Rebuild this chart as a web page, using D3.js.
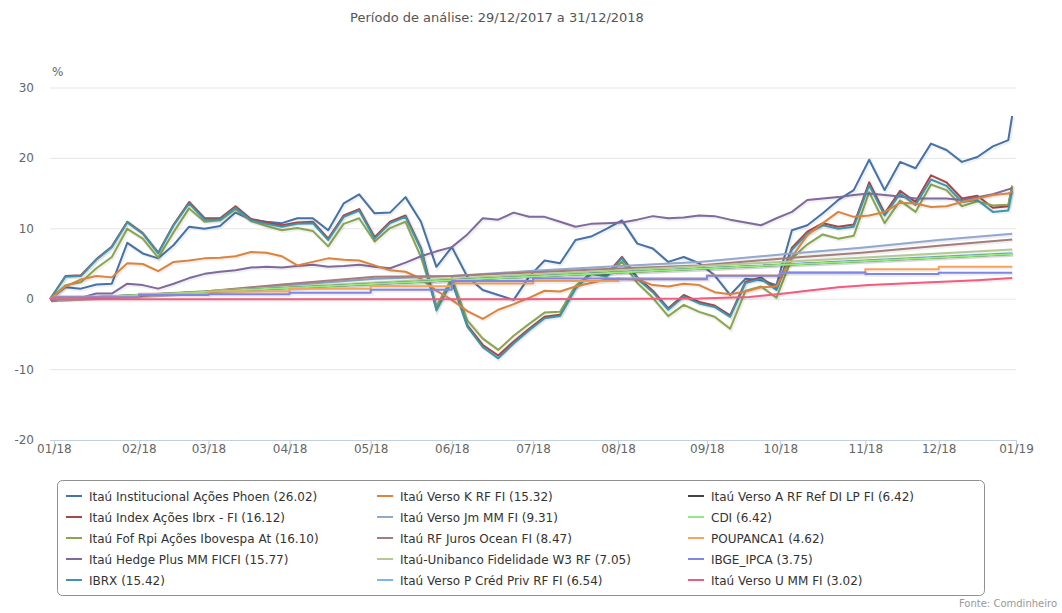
<!DOCTYPE html>
<html>
  <head>
    <meta charset="utf-8">
    <script src="https://cdn.jsdelivr.net/npm/d3@7"></script>
    <title>Período de análise</title>
    <style>
      body {
        margin: 0px;
        background: #fff;
      }
      .title {
        fill: #555;
        font-size: 13px;
      }
      .tick-label {
        fill: #666;
        font-size: 12px;
      }
      .legend-item {
        fill: #333;
        font-size: 12px;
      }
      .source {
        fill: #999;
        font-size: 10px;
      }
    </style>
  </head>
  <body>
    <svg width="1062" height="613"></svg>
    <script>
      // ordinal (trading-day) axis: index 0 = 29/12/2017, 249 = 31/12/2018
      const monthLabels = ['01/18', '02/18', '03/18', '04/18', '05/18', '06/18', '07/18',
        '08/18', '09/18', '10/18', '11/18', '12/18', '01/19'];
      const monthStartIdx = [1, 23, 41, 62, 83, 104, 125, 147, 170, 189, 211, 230, 250];
      const yTicks = [-20, -10, 0, 10, 20, 30];

      const seriesNames = [
        'Itaú Institucional Ações Phoen', 'Itaú Index Ações Ibrx - FI', 'Itaú Fof Rpi Ações Ibovespa At',
        'Itaú Hedge Plus MM FICFI', 'IBRX', 'Itaú Verso K RF FI', 'Itaú Verso Jm MM FI',
        'Itaú RF Juros Ocean FI', 'Itaú-Unibanco Fidelidade W3 RF', 'Itaú Verso P Créd Priv RF FI',
        'Itaú Verso A RF Ref DI LP FI', 'CDI', 'POUPANCA1', 'IBGE_IPCA', 'Itaú Verso U MM FI'
      ];
      const finalValues = [26.02, 16.12, 16.10, 15.77, 15.42, 15.32, 9.31, 8.47, 7.05, 6.54,
        6.42, 6.42, 4.62, 3.75, 3.02];
      const colors = ['#4572A7', '#AA4643', '#89A54E', '#80699B', '#3D96AE', '#DB843D',
        '#92A8CD', '#A47D7C', '#B5CA92', '#7cb5ec', '#434348', '#90ed7d', '#f7a35c',
        '#8085e9', '#f15c80'];

      // volatile series, read every 4 trading days
      const sampleIdx = d3.range(0, 249, 4).concat([249]);
      const phoen = [0, 1.7, 1.5, 2.1, 2.2, 8.0, 6.5, 5.8, 7.7, 10.3,
        10.0, 10.4, 12.3, 11.3, 11.0, 10.8, 11.5, 11.5, 9.8, 13.6,
        14.9, 12.2, 12.3, 14.5, 11.0, 4.6, 7.4, 3.2, 1.3, 0.6,
        -0.1, 3.2, 5.5, 5.1, 8.4, 8.9, 10.0, 11.2, 7.9, 7.2,
        5.3, 6.0, 5.1, 3.4, 0.6, 2.9, 2.7, 2.0, 9.8, 10.5,
        12.2, 14.1, 15.5, 19.8, 15.5, 19.5, 18.6, 22.1, 21.2, 19.5,
        20.2, 21.7, 22.6, 26.02];
      const indexIbrx = [0, 3.3, 3.4, 5.7, 7.5, 11.0, 9.4, 6.6, 10.6, 13.8,
        11.5, 11.5, 13.2, 11.4, 10.9, 10.5, 10.9, 11.0, 8.6, 11.9,
        12.8, 8.8, 11.0, 11.9, 7.3, -1.3, 2.7, -3.7, -6.5, -8.0,
        -6.0, -4.2, -2.5, -2.2, 1.7, 3.8, 3.5, 6.0, 3.1, 1.2,
        -1.3, 0.6, -0.4, -0.9, -2.3, 2.5, 3.1, 1.5, 7.3, 9.6,
        10.8, 10.3, 10.6, 16.6, 12.2, 15.4, 13.8, 17.6, 16.6, 14.3,
        14.7, 13.0, 13.2, 16.12];
      const fofRpi = [0, 2.0, 2.4, 4.4, 6.0, 10.0, 8.6, 5.9, 9.5, 12.9,
        11.0, 11.2, 12.8, 11.1, 10.4, 9.8, 10.1, 9.7, 7.5, 10.7,
        11.5, 8.2, 10.1, 11.0, 6.0, -1.0, 3.0, -3.0, -5.6, -7.2,
        -5.2, -3.5, -1.9, -1.8, 1.9, 3.7, 3.2, 5.3, 2.3, 0.2,
        -2.4, -0.8, -1.8, -2.5, -4.2, 1.2, 1.8, 0.2, 5.8, 7.8,
        9.2, 8.6, 9.0, 15.2, 10.8, 14.0, 12.4, 16.3, 15.5, 13.2,
        13.9, 13.3, 13.4, 16.10];
      const hedgePlus = [0, 0.1, 0.2, 0.8, 0.8, 2.2, 2.0, 1.5, 2.2, 3.0,
        3.6, 3.9, 4.1, 4.5, 4.6, 4.5, 4.7, 4.9, 4.6, 4.7,
        4.9, 4.6, 4.4, 5.2, 6.1, 6.8, 7.4, 9.2, 11.5, 11.3,
        12.3, 11.7, 11.7, 11.0, 10.3, 10.7, 10.8, 10.9, 11.3, 11.8,
        11.5, 11.6, 11.9, 11.8, 11.3, 10.9, 10.5, 11.5, 12.4, 14.1,
        14.3, 14.5, 14.8, 15.0, 14.8, 14.6, 14.3, 14.3, 14.3, 14.1,
        14.5, 14.9, 15.6, 15.77];
      const ibrx = [0, 3.2, 3.3, 5.6, 7.4, 10.9, 9.3, 6.5, 10.5, 13.6,
        11.3, 11.3, 13.0, 11.2, 10.7, 10.3, 10.7, 10.8, 8.4, 11.7,
        12.6, 8.6, 10.8, 11.7, 7.1, -1.6, 2.5, -3.9, -6.8, -8.4,
        -6.3, -4.4, -2.7, -2.4, 1.5, 3.6, 3.3, 5.8, 2.9, 1.0,
        -1.5, 0.4, -0.6, -1.1, -2.5, 2.3, 2.9, 1.3, 7.0, 9.3,
        10.5, 10.0, 10.3, 16.2, 11.9, 15.0, 13.4, 17.0, 16.1, 13.8,
        14.1, 12.4, 12.6, 15.42];
      const versoK = [0, 1.8, 2.8, 3.3, 3.1, 5.1, 5.0, 4.0, 5.3, 5.5,
        5.8, 5.9, 6.1, 6.7, 6.6, 6.1, 4.8, 5.3, 5.8, 5.6,
        5.5, 4.8, 4.1, 3.9, 2.9, 1.2, -0.1, -1.7, -2.8, -1.5,
        -0.7, 0.2, 1.2, 1.1, 1.8, 2.3, 2.8, 2.9, 2.8, 2.0,
        1.8, 2.2, 2.0, 1.0, 0.7, 1.1, 1.7, 1.8, 6.0, 9.1,
        10.8, 12.4, 11.7, 11.9, 12.4, 13.7, 13.6, 13.1, 13.2, 13.8,
        14.3, 14.8, 15.0, 15.32];

      // smooth series, read at a few points
      const slowIdx = [0, 20, 40, 60, 84, 104, 124, 144, 168, 192, 210, 230, 249];
      const versoJm = [0, 0.5, 1.1, 1.9, 2.9, 3.3, 4.0, 4.6, 5.3, 6.5, 7.3, 8.4, 9.31];
      const jurosOcean = [0, 0.4, 1.1, 2.1, 3.2, 3.3, 3.8, 4.3, 4.8, 5.9, 6.6, 7.6, 8.47];
      const lineIdx = [0, 50, 100, 150, 200, 249];
      const fidelidadeW3 = [0, 1.4, 2.8, 4.2, 5.6, 7.05];
      const versoP = [0, 1.3, 2.6, 3.9, 5.2, 6.54];
      const versoA = [0, 1.29, 2.58, 3.87, 5.15, 6.42];
      const cdi = [0, 1.29, 2.58, 3.87, 5.15, 6.42];
      const stepIdx = [0, 1, 23, 41, 62, 83, 104, 125, 147, 170, 189, 211, 230, 249];
      const poupanca = [0, 0.38, 0.77, 1.10, 1.47, 1.84, 2.22, 2.60, 2.98, 3.36, 3.74, 4.24, 4.62, 4.62];
      const ipca = [0, 0.29, 0.61, 0.70, 0.92, 1.33, 2.60, 2.94, 2.85, 3.34, 3.81, 3.59, 3.75, 3.75];
      const versoUIdx = [0, 120, 168, 181, 190, 196, 204, 212, 228, 240, 249];
      const versoU = [0, 0, 0.1, 0.3, 0.8, 1.2, 1.7, 2.0, 2.4, 2.7, 3.02];

      const zip = (xs, ys) => xs.map((x, i) => ({ x, y: ys[i] }));
      const series = [
        { pts: zip(sampleIdx, phoen) },
        { pts: zip(sampleIdx, indexIbrx) },
        { pts: zip(sampleIdx, fofRpi) },
        { pts: zip(sampleIdx, hedgePlus) },
        { pts: zip(sampleIdx, ibrx) },
        { pts: zip(sampleIdx, versoK) },
        { pts: zip(slowIdx, versoJm) },
        { pts: zip(slowIdx, jurosOcean) },
        { pts: zip(lineIdx, fidelidadeW3) },
        { pts: zip(lineIdx, versoP) },
        { pts: zip(lineIdx, versoA) },
        { pts: zip(lineIdx, cdi) },
        { pts: zip(stepIdx, poupanca), step: true },
        { pts: zip(stepIdx, ipca), step: true },
        { pts: zip(versoUIdx, versoU) }
      ];

      const font = "'DejaVu Sans', sans-serif";
      const margin = { left: 50, right: 46, top: 88, bottom: 173 };
      const svg = d3.select('svg');
      const width = +svg.attr('width');
      const height = +svg.attr('height');
      const innerWidth = width - margin.left - margin.right;
      const innerHeight = height - margin.top - margin.bottom;

      const x = d3.scaleLinear().domain([0, 250]).range([0, innerWidth]);
      const y = d3.scaleLinear().domain([-20, 30]).range([innerHeight, 0]);

      svg.append('text')
          .attr('class', 'title')
          .attr('font-family', font)
          .attr('x', 497)
          .attr('y', 22)
          .attr('text-anchor', 'middle')
          .text('Período de análise: 29/12/2017 a 31/12/2018');

      const g = svg.append('g')
          .attr('transform', `translate(${margin.left},${margin.top})`);

      // grid + y labels
      g.selectAll('.grid').data(yTicks.filter(d => d > -20))
        .enter().append('line')
          .attr('x1', 0).attr('x2', innerWidth)
          .attr('y1', d => y(d)).attr('y2', d => y(d))
          .attr('stroke', '#e6e6e6');

      g.selectAll('.ylabel').data(yTicks)
        .enter().append('text')
          .attr('class', 'tick-label')
          .attr('font-family', font)
          .attr('x', -16)
          .attr('y', d => y(d) + 4)
          .attr('text-anchor', 'end')
          .text(d => d);

      g.append('text')
          .attr('class', 'tick-label')
          .attr('font-family', font)
          .attr('x', 2)
          .attr('y', -12)
          .text('%');

      // x axis
      const xAxis = d3.axisBottom(x)
        .tickValues(monthStartIdx)
        .tickFormat((d, i) => monthLabels[i])
        .tickSize(10)
        .tickPadding(0);
      const xAxisG = g.append('g')
          .attr('transform', `translate(0,${innerHeight})`)
          .call(xAxis);
      xAxisG.select('.domain').attr('stroke', '#C0D0E0').attr('d', `M0,0.5H${innerWidth}`);
      xAxisG.selectAll('.tick line').attr('stroke', '#C0D0E0');
      xAxisG.selectAll('.tick text')
          .attr('class', 'tick-label')
          .attr('font-family', font)
          .attr('font-size', null)
          .attr('y', 4)
          .attr('dy', '0.71em');

      // lines
      const line = d3.line().x(d => x(d.x)).y(d => y(d.y));
      const stepLine = d3.line().x(d => x(d.x)).y(d => y(d.y)).curve(d3.curveStepAfter);

      const linesG = g.append('g');
      series.forEach((s, i) => {
        const gen = s.step ? stepLine : line;
        linesG.append('path')
            .attr('d', gen(s.pts))
            .attr('fill', 'none')
            .attr('stroke', 'rgba(0,0,0,0.06)')
            .attr('stroke-width', 4)
            .attr('transform', 'translate(1,1)');
        linesG.append('path')
            .attr('d', gen(s.pts))
            .attr('fill', 'none')
            .attr('stroke', colors[i])
            .attr('stroke-width', 2)
            .attr('stroke-linejoin', 'round');
      });

      // legend
      const legendG = svg.append('g').attr('transform', 'translate(57,480)');
      legendG.append('rect')
          .attr('x', 0.5).attr('y', 0.5)
          .attr('width', 927).attr('height', 115)
          .attr('rx', 5)
          .attr('fill', 'none')
          .attr('stroke', '#909090');
      const items = legendG.selectAll('.item').data(seriesNames)
        .enter().append('g')
          .attr('transform', (d, i) => `translate(${9 + Math.floor(i / 5) * 311},${16 + (i % 5) * 21})`);
      items.append('line')
          .attr('x1', 0).attr('x2', 16)
          .attr('stroke', (d, i) => colors[i])
          .attr('stroke-width', 2);
      items.append('text')
          .attr('class', 'legend-item')
          .attr('font-family', font)
          .attr('x', 23)
          .attr('y', 4.5)
          .text((d, i) => `${d} (${finalValues[i].toFixed(2)})`);

      svg.append('text')
          .attr('class', 'source')
          .attr('font-family', font)
          .attr('x', 1057)
          .attr('y', 607)
          .attr('text-anchor', 'end')
          .text('Fonte: Comdinheiro');
    </script>
  </body>
</html>
